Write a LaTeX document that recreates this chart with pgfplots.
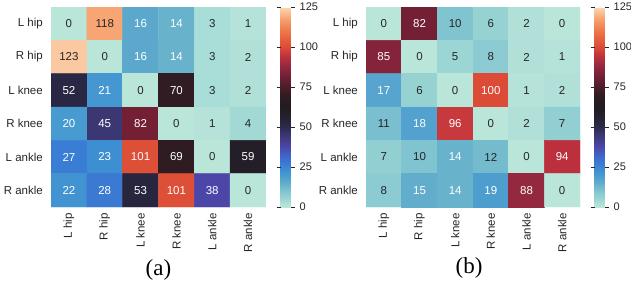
\documentclass[border=0pt]{standalone}
\usepackage{pgfplots}
\pgfplotsset{compat=1.18}
\usepackage{fontspec}
\setmainfont{Liberation Sans}
\newfontfamily\serifcap{Liberation Serif}
\definecolor{txt}{RGB}{38,38,38}

\pgfplotstableread{
x y v
0 0 0
1 0 118
2 0 16
3 0 14
4 0 3
5 0 1
0 1 123
1 1 0
2 1 16
3 1 14
4 1 3
5 1 2
0 2 52
1 2 21
2 2 0
3 2 70
4 2 3
5 2 2
0 3 20
1 3 45
2 3 82
3 3 0
4 3 1
5 3 4
0 4 27
1 4 23
2 4 101
3 4 69
4 4 0
5 4 59
0 5 22
1 5 28
2 5 53
3 5 101
4 5 38
5 5 0
}\dataA

\pgfplotstableread{
x y v
0 0 0
1 0 82
2 0 10
3 0 6
4 0 2
5 0 0
0 1 85
1 1 0
2 1 5
3 1 8
4 1 2
5 1 1
0 2 17
1 2 6
2 2 0
3 2 100
4 2 1
5 2 2
0 3 11
1 3 18
2 3 96
3 3 0
4 3 2
5 3 7
0 4 7
1 4 10
2 4 14
3 4 12
4 4 0
5 4 94
0 5 8
1 5 15
2 5 14
3 5 19
4 5 88
5 5 0
}\dataB

\pgfplotsset{
  colormap={icefire}{
    rgb255(0)=(186,230,218)
    rgb255(2)=(176,224,216)
    rgb255(5)=(156,214,212)
    rgb255(8)=(140,203,210)
    rgb255(10)=(128,196,208)
    rgb255(14)=(105,178,203)
    rgb255(16)=(92,168,205)
    rgb255(20)=(72,155,208)
    rgb255(23)=(62,143,210)
    rgb255(27)=(58,125,212)
    rgb255(30)=(60,112,208)
    rgb255(38)=(75,70,168)
    rgb255(45)=(58,55,115)
    rgb255(50)=(45,42,80)
    rgb255(53)=(40,38,62)
    rgb255(59)=(35,30,40)
    rgb255(63)=(32,28,32)
    rgb255(70)=(48,28,34)
    rgb255(82)=(115,32,52)
    rgb255(85)=(132,35,58)
    rgb255(88)=(148,40,62)
    rgb255(94)=(188,48,62)
    rgb255(100)=(220,75,55)
    rgb255(106)=(232,100,62)
    rgb255(112)=(240,130,80)
    rgb255(118)=(246,165,115)
    rgb255(125)=(253,215,180)
  },
  hm/.style={
    anchor=north west, scale only axis, width=215pt, height=200pt,
    xmin=-0.5, xmax=5.5, ymin=-0.5, ymax=5.5, y dir=reverse,
    enlargelimits=false,
    axis line style={draw=none}, major tick length=0pt,
    xtick={0,...,5}, ytick={0,...,5},
    xticklabels={L hip,R hip,L knee,R knee,L ankle,R ankle},
    yticklabels={L hip,R hip,L knee,R knee,L ankle,R ankle},
    xticklabel style={yshift=-6pt, rotate=90, anchor=east, inner sep=0pt,
      font=\fontsize{11.5}{13}\selectfont, text=txt},
    yticklabel style={anchor=east, inner sep=0pt, xshift=-8pt,
      font=\fontsize{11.5}{13}\selectfont, text=txt},
    point meta min=0, point meta max=125,
    colormap name=icefire,
    colorbar,
    colorbar style={
      at={(parent axis.north east)}, anchor=north west, xshift=6pt,
      width=10pt, height=200pt, scale only axis,
      ytick={0,25,50,75,100,125},
      axis line style={draw=none},
      major tick length=4pt, tick align=outside,
      tick style={draw=txt, line width=0.8pt},
      yticklabel style={font=\fontsize{11}{13}\selectfont, text=txt, inner sep=0pt, xshift=5pt,
        /pgf/number format/assume math mode=true},
    },
  },
  lbl/.style={draw=none, mark=none,
    visualization depends on={\thisrow{v} \as \val},
    nodes near coords={\pgfmathparse{and(\val>13,\val<110)}\ifdim\pgfmathresult pt>0.5pt\color{white}\else\color{txt}\fi\pgfmathprintnumber[assume math mode=true]{\val}},
    nodes near coords align=center,
    every node near coord/.append style={font=\fontsize{11.5}{13}\selectfont, anchor=center, inner sep=0pt},
  },
}

\begin{document}
\begin{tikzpicture}
\useasboundingbox (0pt,0pt) rectangle (631pt,-285pt);
\begin{axis}[hm, at={(51pt,-7pt)}]
  \addplot[matrix plot*, mesh/cols=6, point meta=explicit] table[meta=v] {\dataA};
  \addplot[lbl] table[x=x,y=y] {\dataA};
\end{axis}
\node[anchor=base, font=\serifcap\fontsize{23}{26}\selectfont] at (158.5pt,-275pt) {(a)};
\begin{axis}[hm, at={(366pt,-7pt)}, width=214pt]
  \addplot[matrix plot*, mesh/cols=6, point meta=explicit] table[meta=v] {\dataB};
  \addplot[lbl] table[x=x,y=y] {\dataB};
\end{axis}
\node[anchor=base, font=\serifcap\fontsize{23}{26}\selectfont] at (469pt,-273pt) {(b)};
\end{tikzpicture}
\end{document}
